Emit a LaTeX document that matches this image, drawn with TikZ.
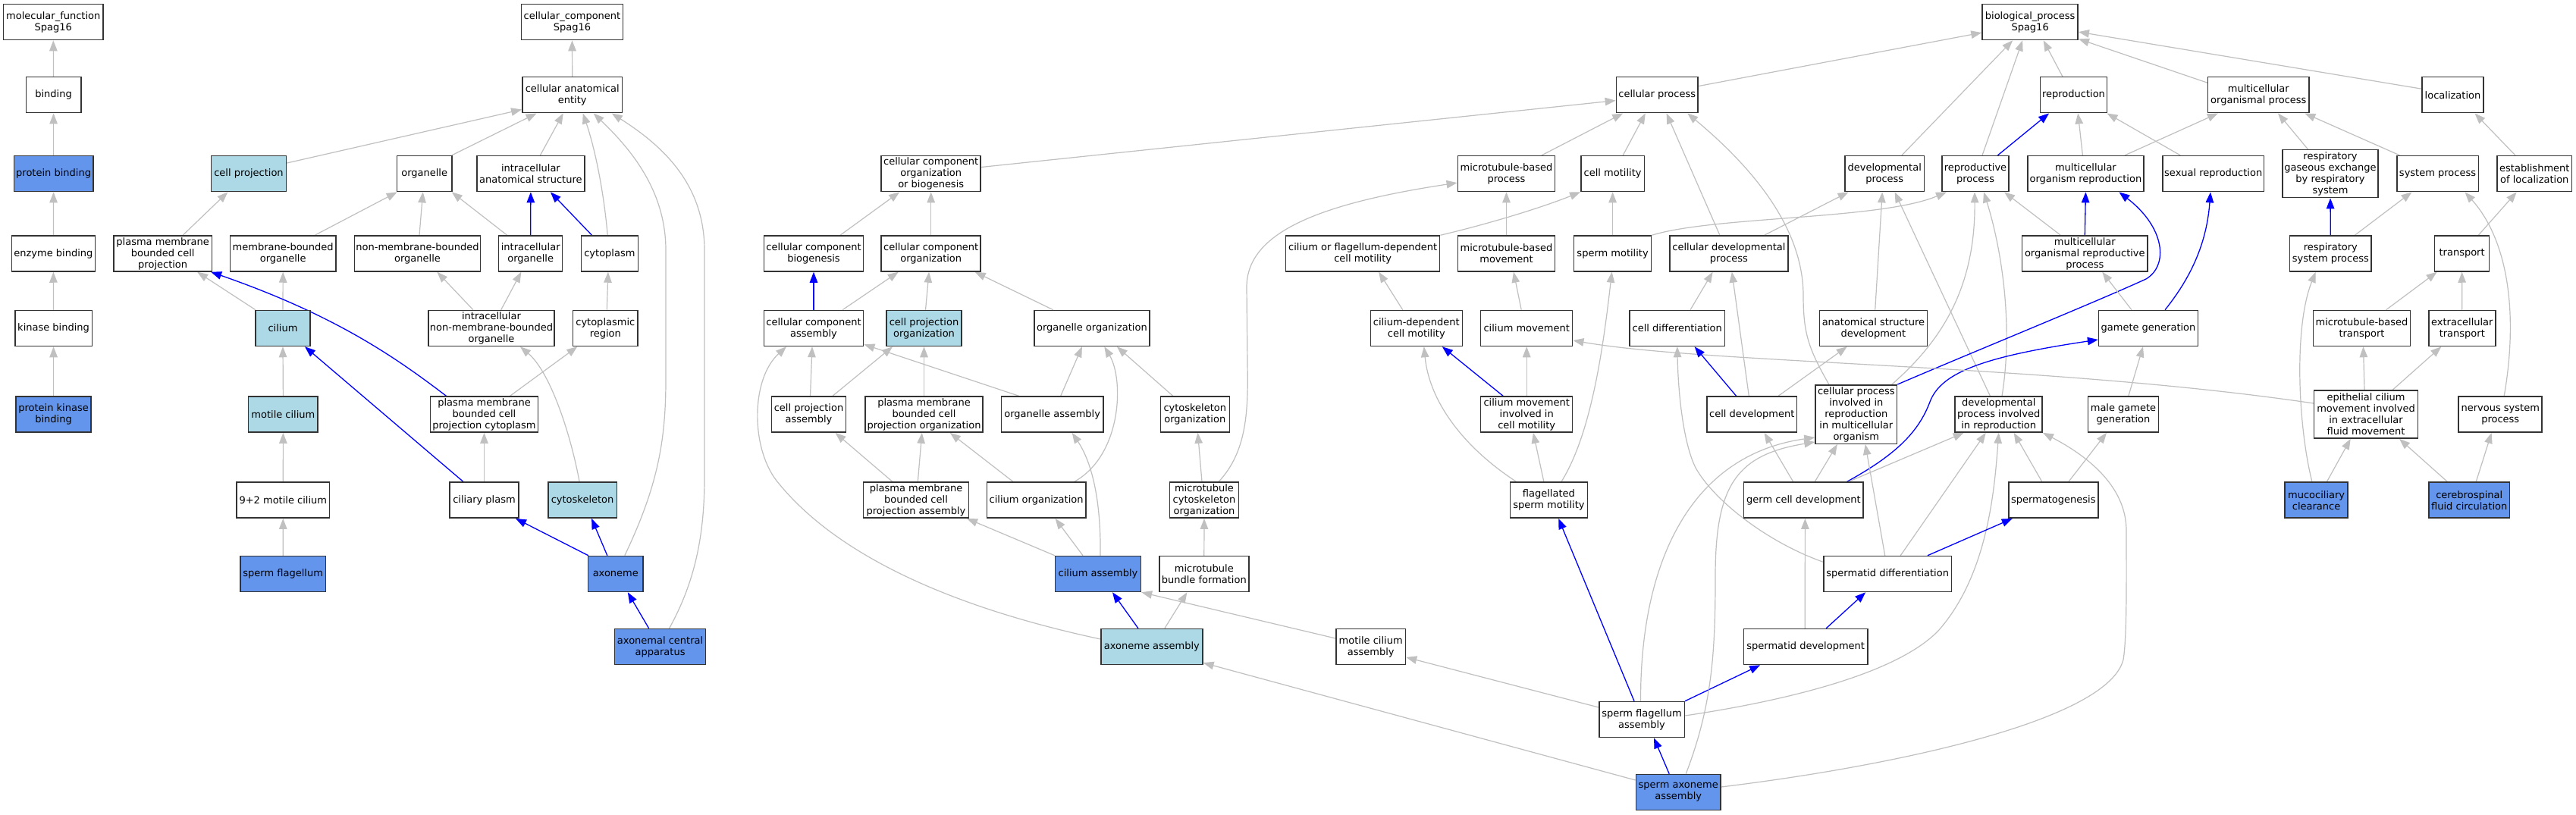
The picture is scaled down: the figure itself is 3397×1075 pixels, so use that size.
\documentclass[tikz,border=0pt]{standalone}
\usepackage{fontspec}
\setmainfont{DejaVu Sans}
\usetikzlibrary{arrows.meta}
\pgfdeclarelayer{bg}
\pgfsetlayers{bg,main}
\definecolor{dkb}{HTML}{6495ED}
\definecolor{ltb}{HTML}{ADD8E6}
\definecolor{eg}{HTML}{C0C0C0}
\definecolor{bl}{HTML}{0000FF}
\definecolor{bd}{HTML}{333333}
\tikzset{
 box/.style={draw=bd, line width=1.5pt, fill=white, rectangle, inner sep=0pt, align=center,
   font=\fontsize{13}{15}\selectfont, minimum height=47pt, text=black},
 dbox/.style={fill=dkb},
 lbox/.style={fill=ltb},
 gedge/.style={draw=eg, line width=1.2pt, -{Triangle[length=14pt,width=10.5pt]}},
 bedge/.style={draw=bl, line width=1.3pt, -{Triangle[length=14pt,width=10.5pt]}}
}
\newcommand\gonode[6][]{\node[box,#1,minimum width=#5pt] (#2) at (#3,#4) {#6};}
\newcommand\goedge[5][gedge]{\draw[#1] ([xshift=#3pt]#2.north) -- ([xshift=#5pt]#4.south);}
\begin{document}
\begin{tikzpicture}[x=1pt,y=-1pt]
\useasboundingbox (0,0) rectangle (3397,1075);
\begin{pgfonlayer}{bg}
\fill[white] (0,0) rectangle (3397,1075);
\end{pgfonlayer}
% ---------- molecular function ----------
\gonode{mf}{70.3}{29.1}{131.3}{molecular\_function\\Spag16}
\gonode{binding}{70.6}{125.2}{72.4}{binding}
\gonode[dbox]{protbind}{70.6}{229.1}{104.4}{protein binding}
\gonode{enzbind}{70.4}{334.5}{110.2}{enzyme binding}
\gonode{kinbind}{70.6}{433}{101.4}{kinase binding}
\gonode[dbox]{pkbind}{70.6}{546.6}{99.2}{protein kinase\\binding}
% ---------- cellular component ----------
\gonode{cc}{754.5}{29.1}{134.3}{cellular\_component\\Spag16}
\gonode{cae}{754.7}{125.2}{131.7}{cellular anatomical\\entity}
\gonode[lbox]{cellproj}{328}{229.1}{98.7}{cell projection}
\gonode{organelle}{559.7}{229.1}{72.4}{organelle}
\gonode{ias}{699.9}{229.1}{142.1}{intracellular\\anatomical structure}
\gonode{pmbcp}{214.7}{334.5}{129.4}{plasma membrane\\bounded cell\\projection}
\gonode{mbo}{373.2}{334.5}{139.3}{membrane-bounded\\organelle}
\gonode{nmbo}{550.5}{334.5}{166.3}{non-membrane-bounded\\organelle}
\gonode{io}{699.7}{334.5}{84}{intracellular\\organelle}
\gonode{cytoplasm}{803.9}{334.5}{74.7}{cytoplasm}
\gonode[lbox]{cilium}{373}{433}{72.3}{cilium}
\gonode{inmbo}{648}{433}{166}{intracellular\\non-membrane-bounded\\organelle}
\gonode{cytoreg}{798.3}{433}{85.8}{cytoplasmic\\region}
\gonode[lbox]{motcil}{373.4}{546.6}{91.5}{motile cilium}
\gonode{pmbcpc}{638.5}{546.6}{142}{plasma membrane\\bounded cell\\projection cytoplasm}
\gonode{ninetwo}{373.3}{659.7}{122.8}{9+2 motile cilium}
\gonode{cilplasm}{638.5}{659.7}{91}{ciliary plasm}
\gonode[lbox]{cytoskel}{768.1}{659.7}{90.6}{cytoskeleton}
\gonode[dbox]{spermflag}{373.2}{757}{112.5}{sperm flagellum}
\gonode[dbox]{axoneme}{811.8}{757}{72.2}{axoneme}
\gonode[dbox]{axcentral}{870.6}{853}{120.2}{axonemal central\\apparatus}
% ---------- biological process ----------
\gonode{bp}{2677.1}{29.1}{126.2}{biological\_process\\Spag16}
\gonode{cellproc}{2185.2}{125.2}{107.6}{cellular process}
\gonode{reproduction}{2734.5}{125.2}{88.4}{reproduction}
\gonode{mop}{2978.3}{125.2}{133.3}{multicellular\\organismal process}
\gonode{localization}{3234.5}{125.2}{80.9}{localization}
\gonode{ccob}{1227.7}{229.1}{131}{cellular component\\organization\\or biogenesis}
\gonode{mtbp}{1986.5}{229.1}{128.4}{microtubule-based\\process}
\gonode{cellmot}{2126.6}{229.1}{83.6}{cell motility}
\gonode{devproc}{2485.2}{229.1}{104.7}{developmental\\process}
\gonode{reproproc}{2605}{229.1}{88.4}{reproductive\\process}
\gonode{mor}{2750.4}{229.1}{152.8}{multicellular\\organism reproduction}
\gonode{sexrep}{2918.7}{229.1}{133.9}{sexual reproduction}
\gonode[minimum height=63pt]{rgex}{3073}{229.1}{126.3}{respiratory\\gaseous exchange\\by respiratory\\system}
\gonode{sysproc}{3214.5}{229.1}{107.5}{system process}
\gonode{estloc}{3342.3}{229.1}{98.6}{establishment\\of localization}
\gonode{ccbio}{1073}{334.5}{131.3}{cellular component\\biogenesis}
\gonode{cco}{1227.7}{334.5}{131}{cellular component\\organization}
\gonode{cofdcm}{1797.2}{334.5}{203}{cilium or flagellum-dependent\\cell motility}
\gonode{mtbm}{1986.5}{334.5}{128.4}{microtubule-based\\movement}
\gonode{spermmot}{2126.6}{334.5}{102.1}{sperm motility}
\gonode{celldevproc}{2279.9}{334.5}{155.7}{cellular developmental\\process}
\gonode{morp}{2749.3}{334.5}{165.4}{multicellular\\organismal reproductive\\process}
\gonode{rsp}{3073.3}{334.5}{107.5}{respiratory\\system process}
\gonode{transport}{3246.6}{334.5}{72.1}{transport}
\gonode{cca}{1073}{433}{131.3}{cellular component\\assembly}
\gonode[lbox]{cpo}{1218.5}{433}{99.1}{cell projection\\organization}
\gonode{orgorg}{1439.9}{433}{152.1}{organelle organization}
\gonode{cdcm}{1867.8}{433}{121}{cilium-dependent\\cell motility}
\gonode{cilmov}{2013.2}{433}{121}{cilium movement}
\gonode{celldiff}{2211.8}{433}{125.4}{cell differentiation}
\gonode{asd}{2470.4}{433}{141.7}{anatomical structure\\development}
\gonode{gamgen}{2833}{433}{130.8}{gamete generation}
\gonode{mtbt}{3114.5}{433}{128.1}{microtubule-based\\transport}
\gonode{ecttrans}{3246.8}{433}{87.9}{extracellular\\transport}
\gonode{cpa}{1066.5}{546.6}{98.4}{cell projection\\assembly}
\gonode{pmbcpo}{1218.5}{546.6}{155}{plasma membrane\\bounded cell\\projection organization}
\gonode{orgasm}{1387.7}{546.6}{134.3}{organelle assembly}
\gonode{cytoorg}{1575.8}{546.6}{91}{cytoskeleton\\organization}
\gonode{cmicm}{2013.2}{546.6}{121}{cilium movement\\involved in\\cell motility}
\gonode{celldev}{2310.3}{546.6}{118.5}{cell development}
\gonode[minimum height=77.5pt]{cpirmo}{2447.8}{546.5}{107.6}{cellular process\\involved in\\reproduction\\in multicellular\\organism}
\gonode{dpir}{2635.7}{546.6}{115}{developmental\\process involved\\in reproduction}
\gonode{mgg}{2800}{546.6}{93}{male gamete\\generation}
\gonode[minimum height=63pt]{ecm}{3120}{546.6}{136.9}{epithelial cilium\\movement involved\\in extracellular\\fluid movement}
\gonode{nsp}{3297.2}{546.6}{110}{nervous system\\process}
\gonode{pmbcpa}{1208}{659.7}{138.7}{plasma membrane\\bounded cell\\projection assembly}
\gonode{cilorg}{1366.6}{659.7}{130.6}{cilium organization}
\gonode{mco}{1588}{659.7}{91}{microtubule\\cytoskeleton\\organization}
\gonode{fsm}{2042.4}{659.7}{101.8}{flagellated\\sperm motility}
\gonode{gcd}{2378.4}{659.7}{157.6}{germ cell development}
\gonode{spermatogenesis}{2707.8}{659.7}{118}{spermatogenesis}
\gonode[dbox]{mucocil}{3054.6}{659.7}{82.8}{mucociliary\\clearance}
\gonode[dbox]{csf}{3256.2}{659.7}{106.7}{cerebrospinal\\fluid circulation}
\gonode[dbox]{cilasm}{1448}{757}{112.8}{cilium assembly}
\gonode{mtbf}{1587.8}{757}{118}{microtubule\\bundle formation}
\gonode{sdiff}{2489.2}{757}{168.4}{spermatid differentiation}
\gonode[lbox]{axasm}{1518.9}{853}{133.9}{axoneme assembly}
\gonode{mca}{1807.7}{853}{91.7}{motile cilium\\assembly}
\gonode{sdev}{2381.2}{853}{163.1}{spermatid development}
\gonode{sfa}{2165}{949}{112.5}{sperm flagellum\\assembly}
\gonode[dbox]{saa}{2213.2}{1045}{111.7}{sperm axoneme\\assembly}
% ================= edges =================
\begin{pgfonlayer}{bg}
% MF
\goedge{binding}{0}{mf}{0}
\goedge{protbind}{0}{binding}{0}
\goedge{enzbind}{0}{protbind}{0}
\goedge{kinbind}{0}{enzbind}{0}
\goedge{pkbind}{0}{kinbind}{0}
% CC
\goedge{cae}{0}{cc}{0}
\draw[gedge] ([yshift=14pt]cellproj.east) -- ([yshift=5pt]cae.south west);
\goedge{organelle}{36}{cae}{-47}
\goedge{ias}{12.5}{cae}{-12}
\draw[gedge] ([xshift=-2.7pt]cytoplasm.north) .. controls (797,260) and (786,200) .. ([xshift=14pt]cae.south);
\draw[gedge] ([xshift=12pt]axoneme.north) .. controls (868,640) and (878,580) .. (878,500) -- (878,330) .. controls (878,250) and (830,195) .. ([xshift=28pt]cae.south);
\draw[gedge] ([xshift=12pt]axcentral.north) .. controls (915,770) and (929,710) .. (929,630) -- (929,330) .. controls (929,240) and (870,190) .. ([xshift=52pt]cae.south);
\goedge{pmbcp}{26.4}{cellproj}{-27.6}
\goedge{mbo}{42}{organelle}{-36}
\goedge{nmbo}{2.5}{organelle}{-2}
\goedge{io}{-31}{organelle}{36}
\goedge[bedge]{io}{0}{ias}{0}
\goedge[bedge]{cytoplasm}{-23.4}{ias}{26}
\goedge{cilium}{-36}{pmbcp}{45.5}
\goedge{cilium}{0}{mbo}{0}
\draw[bedge] ([xshift=-50pt]pmbcpc.north) .. controls (520,470) and (440,415) .. ([xshift=-2pt]pmbcp.south east);
\goedge{inmbo}{-24}{nmbo}{26}
\goedge{inmbo}{12.7}{io}{-12.4}
\goedge{cytoreg}{2}{cytoplasm}{-2}
\goedge{motcil}{0}{cilium}{0}
\goedge[bedge]{cilplasm}{-27.5}{cilium}{29}
\goedge{pmbcpc}{34}{cytoreg}{-37}
\goedge{cilplasm}{0}{pmbcpc}{0}
\draw[gedge] ([xshift=-4pt]cytoskel.north) .. controls (752,570) and (725,490) .. ([xshift=38pt]inmbo.south);
\goedge{ninetwo}{0}{motcil}{0}
\goedge{spermflag}{0}{ninetwo}{0}
\goedge[bedge]{axoneme}{-36}{cilplasm}{41.5}
\goedge[bedge]{axoneme}{-11}{cytoskel}{12}
\goedge[bedge]{axcentral}{-15}{axoneme}{16}
% BP top
\draw[gedge] ([yshift=11.6pt]cellproc.east) -- ([yshift=-14pt]bp.west);
\goedge{reproduction}{-14.6}{bp}{17.6}
\draw[gedge] ([yshift=16pt]mop.west) -- ([yshift=2pt]bp.south east);
\draw[gedge] ([yshift=8pt]localization.west) -- ([yshift=-13pt]bp.east);
\goedge{devproc}{22.7}{bp}{-23}
\goedge{reproproc}{9}{bp}{-10}
\draw[gedge] ([yshift=8.6pt]ccob.east) -- ([yshift=-7.4pt]cellproc.west);
\goedge{mtbp}{46.5}{cellproc}{-45}
\goedge{cellmot}{13.6}{cellproc}{-15.4}
\goedge{celldevproc}{-12}{cellproc}{12.4}
\draw[gedge] ([xshift=-36pt]cpirmo.north) .. controls (2385,460) and (2378,440) .. (2378,390) .. controls (2378,300) and (2310,220) .. ([xshift=40pt]cellproc.south);
\draw[gedge] (spermmot.north east) .. controls (2260,285) and (2480,290) .. ([xshift=-38pt]reproproc.south);
\goedge{celldevproc}{46.7}{devproc}{-47.6}
\goedge{asd}{2.3}{devproc}{-3}
\goedge{dpir}{-11.3}{devproc}{13.4}
\draw[gedge] ([xshift=47pt]cpirmo.north) .. controls (2560,450) and (2605,380) .. ([xshift=-1pt]reproproc.south);
\draw[gedge] ([xshift=4.3pt]dpir.north) .. controls (2655,430) and (2640,330) .. ([xshift=11pt]reproproc.south);
\goedge{morp}{-32}{reproproc}{38}
\goedge[bedge]{reproproc}{29.4}{reproduction}{-32.4}
\goedge{mor}{-4}{reproduction}{5.7}
\goedge{sexrep}{-43.5}{reproduction}{44}
\goedge{mor}{51.6}{mop}{-53.4}
\goedge[bedge]{morp}{0}{mor}{0}
\draw[bedge] (cpirmo.north east) .. controls (2600,465) and (2760,400) .. (2830,368) .. controls (2860,350) and (2855,300) .. ([xshift=44pt]mor.south);
\draw[bedge] ([xshift=22pt]gamgen.north) .. controls (2890,365) and (2910,320) .. ([xshift=-3.7pt]sexrep.south);
\goedge{gamgen}{-22}{morp}{23}
\draw[bedge] ([xshift=57pt]gcd.north) .. controls (2500,600) and (2530,570) .. (2545,530) .. controls (2560,490) and (2620,470) .. ([yshift=-15pt]gamgen.west);
\goedge{mgg}{6.8}{gamgen}{-7}
\goedge{rgex}{-29.6}{mop}{25.7}
\goedge{sysproc}{-50}{mop}{61}
\goedge{estloc}{-25.4}{localization}{29}
\goedge[bedge]{rsp}{0}{rgex}{0}
\goedge{rsp}{32}{sysproc}{-34}
\goedge{transport}{21.7}{estloc}{-23.6}
\draw[gedge] ([xshift=5pt]nsp.north) .. controls (3320,420) and (3310,320) .. ([xshift=36pt]sysproc.south);
\goedge{mtbt}{32}{transport}{-33}
\goedge{ecttrans}{0}{transport}{0}
\goedge{ecm}{-2}{mtbt}{2}
\goedge{ecm}{35}{ecttrans}{-27.5}
\draw[gedge] ([yshift=14.6pt]ecm.west) .. controls (2700,480) and (2250,480) .. ([yshift=-16pt]cilmov.east);
\draw[gedge] ([xshift=-5.7pt]mucocil.north) .. controls (3030,560) and (3025,430) .. ([xshift=-19.6pt]rsp.south);
\goedge{mucocil}{13.8}{ecm}{-20.3}
\goedge{csf}{-28.8}{ecm}{44}
\goedge{csf}{9}{nsp}{-11.6}
% middle
\goedge{ccbio}{35}{ccob}{-41.5}
\goedge{cco}{0}{ccob}{0}
\goedge[bedge]{cca}{0}{ccbio}{0}
\goedge{cca}{38}{cco}{-43}
\goedge{cpo}{2}{cco}{-2.6}
\goedge{orgorg}{-51}{cco}{58}
\goedge{cpa}{2}{cca}{-2}
\draw[gedge] ([xshift=-44pt]orgasm.north) -- ([yshift=3pt]cca.south east);
\goedge{cpa}{31.4}{cpo}{-41.5}
\goedge{pmbcpo}{0}{cpo}{0}
\goedge{pmbcpa}{-31}{cpa}{35}
\goedge{pmbcpa}{2.3}{pmbcpo}{-2.7}
\goedge{cilorg}{-30.5}{pmbcpo}{34.3}
\draw[gedge] ([xshift=50pt]cilorg.north) .. controls (1480,600) and (1482,500) .. ([xshift=16.4pt]orgorg.south);
\goedge{orgasm}{11}{orgorg}{-13}
\goedge{cytoorg}{-29}{orgorg}{33}
\draw[gedge] (cilasm.north west) -- ([xshift=67pt]pmbcpa.south);
\goedge{cilasm}{-20}{cilorg}{25}
\draw[gedge] ([xshift=3pt]cilasm.north) .. controls (1452,660) and (1440,610) .. ([xshift=26pt]orgasm.south);
\goedge{mco}{-3}{cytoorg}{3.7}
\draw[gedge] ([xshift=19pt]mco.north) .. controls (1645,595) and (1646,540) .. (1645,480) -- (1644,380) .. controls (1643,310) and (1730,270) .. ([yshift=-12pt]mtbp.west);
\goedge{mtbf}{0}{mco}{0}
\goedge[bedge]{axasm}{-18}{cilasm}{19}
\goedge{axasm}{17}{mtbf}{-22.4}
\draw[gedge] ([yshift=10pt]axasm.west) .. controls (1250,800) and (1100,730) .. (1024,634) .. controls (990,590) and (990,500) .. ([xshift=-36pt]cca.south);
\draw[gedge] ([yshift=11pt]mca.west) -- (cilasm.south east);
\draw[gedge] ([yshift=16pt]sfa.west) -- ([yshift=-14pt]mca.east);
\draw[gedge] ([yshift=16pt]saa.west) -- ([yshift=3pt]axasm.south east);
\goedge[bedge]{saa}{-12}{sfa}{16}
\goedge[bedge]{sfa}{-10}{fsm}{12.8}
\draw[bedge] (sfa.north east) -- ([xshift=-60pt]sdev.south);
\draw[gedge] ([yshift=5pt]sfa.east) .. controls (2350,925) and (2500,890) .. (2556,832) .. controls (2620,760) and (2630,650) .. (dpir.south);
\draw[gedge] ([xshift=-1.5pt]sfa.north) .. controls (2163,740) and (2230,600) .. ([yshift=9pt]cpirmo.south west);
\draw[gedge] ([xshift=10pt]saa.north) .. controls (2258,930) and (2262,860) .. (2262,760) .. controls (2262,640) and (2290,600) .. ([yshift=3pt]cpirmo.south west);
\draw[gedge] ([yshift=7pt]saa.east) .. controls (2500,1010) and (2780,950) .. (2800,870) .. controls (2805,840) and (2804,760) .. (2804,700) .. controls (2804,640) and (2750,600) .. (dpir.south east);
\goedge[bedge]{celldev}{-20.7}{celldiff}{22.8}
\goedge{celldev}{-4}{celldevproc}{4}
\goedge{celldev}{34.7}{asd}{-34.7}
\goedge{celldiff}{17.2}{celldevproc}{-21.3}
\goedge{gcd}{-13.7}{celldev}{16.3}
\goedge{gcd}{14.8}{cpirmo}{-25}
\goedge{gcd}{59}{dpir}{-46}
\draw[gedge] ([yshift=15.7pt]sdiff.west) .. controls (2330,715) and (2260,660) .. (2236,617) .. controls (2220,585) and (2213,520) .. (celldiff.south);
\goedge{sdiff}{-3.5}{cpirmo}{12}
\goedge{sdiff}{17}{dpir}{-17}
\goedge[bedge]{sdiff}{52.7}{spermatogenesis}{-54}
\goedge[bedge]{sdev}{27}{sdiff}{-29}
\goedge{sdev}{-1}{gcd}{2}
\goedge{spermatogenesis}{-15}{dpir}{20}
\goedge{spermatogenesis}{20}{mgg}{-22}
\goedge[bedge]{cmicm}{-31}{cdcm}{34}
\goedge{cmicm}{0}{cilmov}{0}
\goedge{cdcm}{-18}{cofdcm}{21}
\goedge{cilmov}{-7}{mtbm}{9.5}
\goedge{mtbm}{0}{mtbp}{0}
\draw[gedge] (cofdcm.north east) .. controls (1960,296) and (2030,275) .. (cellmot.south west);
\goedge{spermmot}{0}{cellmot}{0}
\draw[gedge] ([xshift=-42.7pt]fsm.north) .. controls (1930,590) and (1885,530) .. ([xshift=10pt]cdcm.south);
\goedge{fsm}{-6.5}{cmicm}{8.7}
\draw[gedge] ([xshift=16.5pt]fsm.north) .. controls (2100,570) and (2115,450) .. ([xshift=-1pt]spermmot.south);
\end{pgfonlayer}
\end{tikzpicture}
\end{document}
